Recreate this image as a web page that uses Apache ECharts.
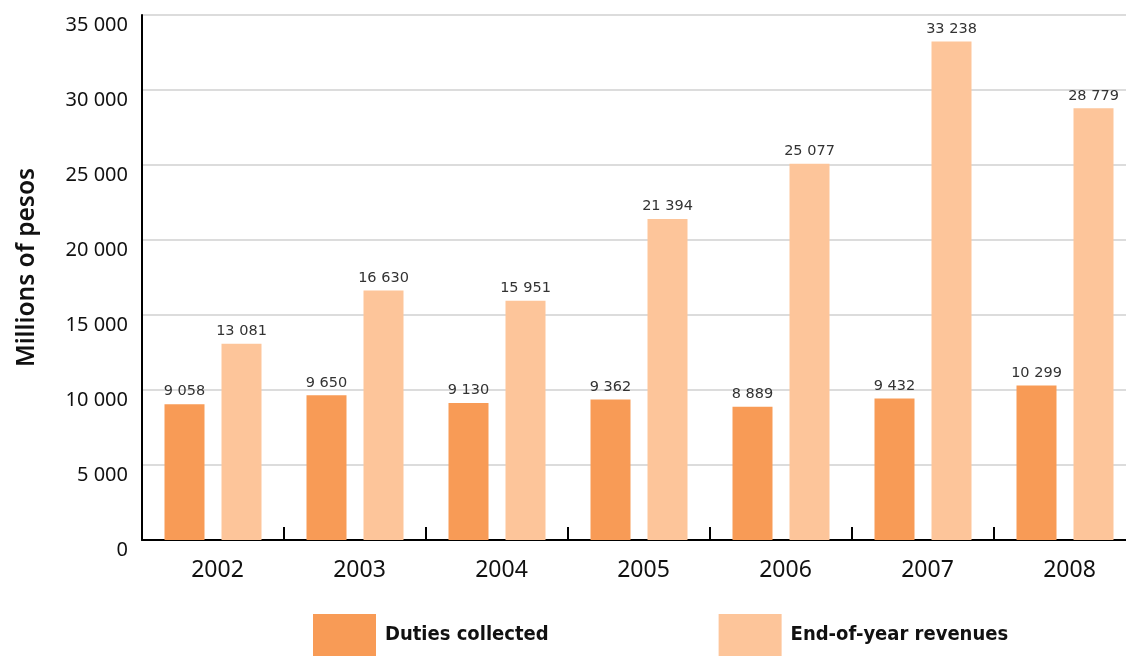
<!DOCTYPE html>
<html>
<head>
<meta charset="utf-8">
<script src="https://cdn.jsdelivr.net/npm/echarts@6/dist/echarts.min.js"></script>
<style>
html,body{margin:0;padding:0;background:#fff;overflow:hidden;}
#chart{width:1140px;height:656px;}
</style>
</head>
<body>
<div id="chart"></div>
<script>
const categories = ['2002', '2003', '2004', '2005', '2006', '2007', '2008'];
const dutiesCollected = [9058, 9650, 9130, 9362, 8889, 9432, 10299];
const endOfYearRevenues = [13081, 16630, 15951, 21394, 25077, 33238, 28779];
const seriesNames = ['Duties collected', 'End-of-year revenues'];
const yTicks = { min: 0, max: 35000, interval: 5000 };

function fmt(v) {
  return String(v).replace(/\B(?=(\d{3})+(?!\d))/g, ' ');
}

const chart = echarts.init(document.getElementById('chart'), null, { renderer: 'canvas' });
const labelStyle = {
  show: true,
  position: 'top',
  distance: 5,
  fontFamily: 'DejaVu Sans',
  fontSize: 14.5,
  color: '#333',
  formatter: p => fmt(p.value)
};
chart.setOption({
  animation: false,
  backgroundColor: '#fff',
  grid: { left: 142, top: 15, width: 994, height: 525, containLabel: false },
  legend: {
    left: 313,
    top: 614,
    padding: 0,
    itemWidth: 63,
    itemHeight: 42,
    itemGap: 170,
    icon: 'rect',
    textStyle: {
      fontFamily: "'Liberation Sans Narrow', 'DejaVu Sans Condensed', sans-serif",
      fontWeight: 'bold',
      fontSize: 20,
      color: '#111',
      padding: [4, 0, 0, 4]
    },
    data: seriesNames
  },
  xAxis: {
    type: 'category',
    data: categories,
    axisLine: { show: true, lineStyle: { color: '#000', width: 2 } },
    axisTick: { show: true, inside: true, length: 13, lineStyle: { color: '#000', width: 2 } },
    axisLabel: { fontFamily: 'Noto Sans', fontSize: 23, color: '#111', margin: 19, padding: [0, 0, 0, 9] },
    splitLine: { show: false }
  },
  yAxis: {
    type: 'value',
    min: yTicks.min,
    max: yTicks.max,
    interval: yTicks.interval,
    name: 'Millions of pesos',
    nameLocation: 'middle',
    nameGap: 102,
    nameRotate: 90,
    nameTextStyle: { fontFamily: 'Noto Sans', fontSize: 24.5, color: '#111', fontWeight: 600, padding: [0, 0, 0, 20] },
    axisLine: { show: true, lineStyle: { color: '#000', width: 2 } },
    axisTick: { show: false },
    axisLabel: { fontFamily: 'Noto Sans', fontSize: 20, color: '#111', margin: 14, verticalAlign: 'top', formatter: v => fmt(v) },
    splitLine: { show: true, lineStyle: { color: '#d0d0d0', width: 1.5 } }
  },
  series: [
    {
      name: seriesNames[0],
      type: 'bar',
      data: dutiesCollected,
      barWidth: 40,
      barGap: '42.5%',
      itemStyle: { color: '#F89B56' },
      label: labelStyle
    },
    {
      name: seriesNames[1],
      type: 'bar',
      data: endOfYearRevenues,
      barWidth: 40,
      barGap: '42.5%',
      itemStyle: { color: '#FDC59A' },
      label: labelStyle
    }
  ]
});
</script>
</body>
</html>
